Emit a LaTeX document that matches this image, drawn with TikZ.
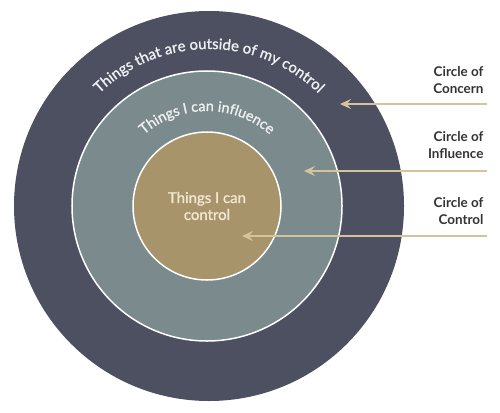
\documentclass[tikz,border=0pt]{standalone}
\usepackage{fontspec}
\setmainfont{Lato}
\newfontfamily\latomed[FakeBold=1.2]{Lato}
\usetikzlibrary{decorations.text, arrows.meta}
\definecolor{outerc}{HTML}{4D5061}
\definecolor{midc}{HTML}{7B8A8C}
\definecolor{innerc}{HTML}{A8946A}
\definecolor{tanc}{HTML}{D6C39B}
\definecolor{labelc}{HTML}{333333}
\definecolor{creamc}{HTML}{F2E8D2}
\definecolor{arctxt}{HTML}{EEF0F2}
\begin{document}
\begin{tikzpicture}[x=1bp,y=1bp,
  ring/.style={circle, inner sep=0pt, outer sep=0pt},
  lbl/.style={align=right, anchor=east, text=labelc, font=\fontsize{13.5}{17}\selectfont\bfseries},
  arr/.style={draw=tanc, line width=1.8bp, -{Stealth[length=11bp,width=10bp,inset=4bp]}}]
\useasboundingbox (0,0) rectangle (500,412);
\node[ring, fill=outerc, minimum size=390bp] (concern) at (209,206) {};
\node[ring, fill=midc, draw=white, line width=1.5bp, minimum size=270bp] (influence) at (207,206) {};
\node[ring, fill=innerc, draw=white, line width=1.5bp, minimum size=148bp,
      align=center, text=creamc, font=\latomed\fontsize{15}{17}\selectfont] (control) at (207,206) {Things I can\\control};
% curved texts
\path[decorate, decoration={text along path, text align=center,
   text={|\latomed\fontsize{15}{17}\selectfont\color{arctxt}|Things that are outside of my control}}]
   (209,206) ++(180:157) arc[start angle=180, end angle=0, radius=157];
\path[decorate, decoration={text along path, text align=center,
   text={|\latomed\fontsize{14.5}{17}\selectfont\color{arctxt}|Things I can influence}}]
   (207,206) ++(180:95) arc[start angle=180, end angle=0, radius=95];
% labels
\node[lbl] (lconcern) at (487,332) {Circle of\\Concern};
\node[lbl] (linfluence) at (487,266.5) {Circle of\\Influence};
\node[lbl] (lcontrol) at (487,200.5) {Circle of\\Control};
% arrows
\coordinate (s1) at (487,308); \coordinate (t1) at (340,308);
\coordinate (s2) at (487,241); \coordinate (t2) at (304,241);
\coordinate (s3) at (487,176); \coordinate (t3) at (242,176);
\draw[arr] (s1) -- (t1);
\draw[arr] (s2) -- (t2);
\draw[arr] (s3) -- (t3);
\end{tikzpicture}
\end{document}
